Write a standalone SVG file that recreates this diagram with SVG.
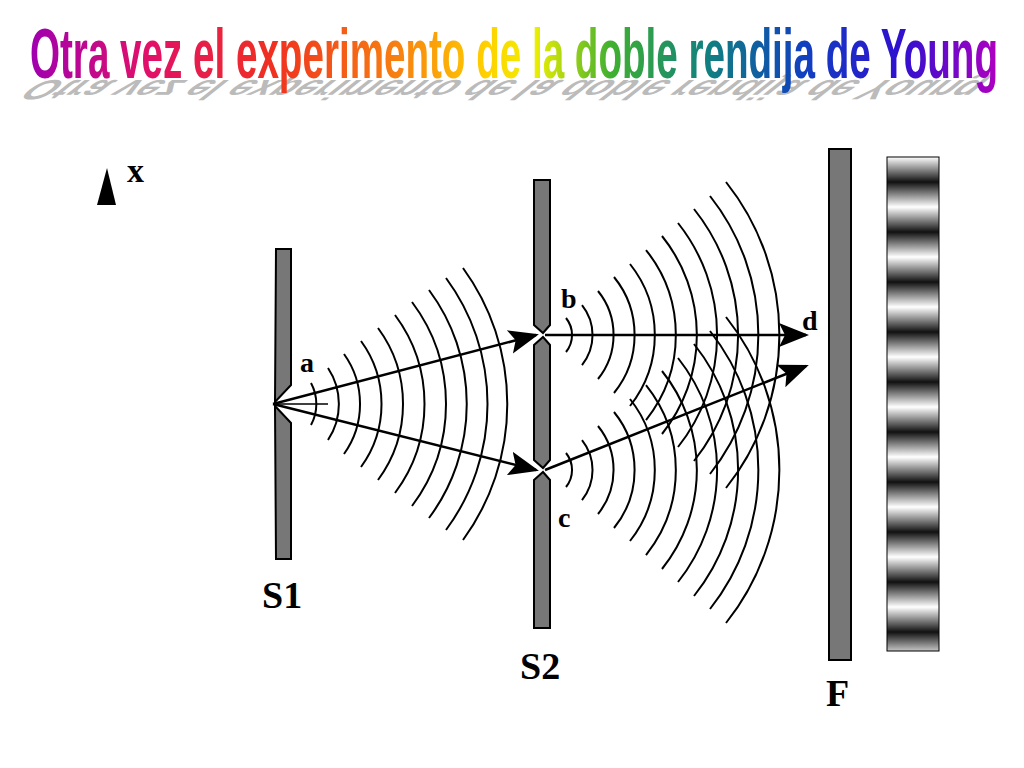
<svg xmlns="http://www.w3.org/2000/svg" width="1024" height="768" viewBox="0 0 1024 768">
<defs>
<linearGradient id="rb" x1="30" y1="0" x2="998" y2="0" gradientUnits="userSpaceOnUse">
<stop offset="0" stop-color="#a000b0"/><stop offset="0.12" stop-color="#e0106a"/><stop offset="0.25" stop-color="#f03020"/><stop offset="0.38" stop-color="#f78010"/><stop offset="0.47" stop-color="#ffd000"/><stop offset="0.52" stop-color="#f0f000"/><stop offset="0.6" stop-color="#40b030"/><stop offset="0.7" stop-color="#108080"/><stop offset="0.8" stop-color="#1040c0"/><stop offset="0.9" stop-color="#3010d0"/><stop offset="1" stop-color="#b000c0"/>
</linearGradient>
<linearGradient id="fr" x1="0" y1="157" x2="0" y2="207" gradientUnits="userSpaceOnUse" spreadMethod="repeat">
<stop offset="0" stop-color="#fff"/><stop offset="0.5" stop-color="#111"/><stop offset="1" stop-color="#fff"/>
</linearGradient>
<marker id="ah" viewBox="0 0 10 10" refX="9" refY="5" markerWidth="30" markerHeight="30" markerUnits="userSpaceOnUse" orient="auto"><path d="M0,1 L10,5 L0,9 L2,5 Z" fill="#000"/></marker>
<style>
.bar{fill:#777;stroke:#000;stroke-width:2}
.w{fill:none;stroke:#000;stroke-width:2}
.ar{stroke:#000;stroke-width:2.5;fill:none;marker-end:url(#ah)}
.lb{font-family:"Liberation Serif",serif;font-weight:bold;fill:#000}
.tt{font-family:"Liberation Sans Narrow","Liberation Sans",sans-serif;font-weight:bold;font-size:70px}
</style>
</defs>
<g id="title">
<text class="tt" x="40" y="0" fill="#bbb" textLength="950" lengthAdjust="spacingAndGlyphs" transform="translate(0,80) matrix(1,0,0.5,-0.4,0,0)">Otra vez el experimento de la doble rendija de Young</text>
<text class="tt" x="30" y="78" fill="url(#rb)" textLength="968" lengthAdjust="spacingAndGlyphs">Otra vez el experimento de la doble rendija de Young</text>
</g>
<g id="S1"><polygon class="bar" points="276,249 291,249 291,385 275,402 276,249"/><polygon class="bar" points="275,406 291,423 291,559 276,559"/></g>
<g id="S2"><polygon class="bar" points="534,180 550,180 550,325 543,333 534,325"/><polygon class="bar" points="534,345 543,337 550,345 550,460 543,468 534,460"/><polygon class="bar" points="534,480 543,472 550,480 550,628 534,628"/></g>
<g id="F"><rect class="bar" x="829" y="149" width="22" height="511"/></g>
<g id="screen"><rect x="887" y="157" width="52" height="494" fill="url(#fr)" stroke="#000" stroke-width="1"/></g>
<g id="connectors">
<line x1="273" y1="404" x2="328" y2="404" stroke="#000" stroke-width="1.5"/>
<line class="ar" x1="273" y1="404" x2="536" y2="335"/>
<line class="ar" x1="273" y1="404" x2="536" y2="470"/>
<line class="ar" x1="545" y1="335" x2="806" y2="335"/>
<line class="ar" x1="545" y1="470" x2="806" y2="366"/>
</g>
<g id="labels">
<polygon points="107,168 97,205 116,205"/>
<text class="lb" x="127" y="182" font-size="34">x</text>
<text class="lb" x="300" y="372" font-size="28">a</text>
<text class="lb" x="561" y="308" font-size="28">b</text>
<text class="lb" x="558" y="527" font-size="28">c</text>
<text class="lb" x="802" y="330" font-size="28">d</text>
<text class="lb" x="262" y="608" font-size="38">S1</text>
<text class="lb" x="520" y="679" font-size="38">S2</text>
<text class="lb" x="826" y="706" font-size="38">F</text>
</g>
<g id="arcs" class="w">
<path d="M311,383 A44,44 0 0 1 311,425"/>
<path d="M328,368 A65,65 0 0 1 328,440"/>
<path d="M344,354 A86,86 0 0 1 344,454"/>
<path d="M361,341 A107,107 0 0 1 361,467"/>
<path d="M378,328 A128,128 0 0 1 378,480"/>
<path d="M395,315 A149,149 0 0 1 395,493"/>
<path d="M412,302 A170,170 0 0 1 412,506"/>
<path d="M429,290 A191,191 0 0 1 429,518"/>
<path d="M446,278 A212,212 0 0 1 446,530"/>
<path d="M463,268 A231,231 0 0 1 463,540"/>
<path d="M566,318 A27,27 0 0 1 566,352"/>
<path d="M582,305 A48,48 0 0 1 582,365"/>
<path d="M598,291 A70,70 0 0 1 598,379"/>
<path d="M614,277 A92,92 0 0 1 614,393"/>
<path d="M630,264 A114,114 0 0 1 630,406"/>
<path d="M646,250 A136,136 0 0 1 646,420"/>
<path d="M662,236 A158,158 0 0 1 662,434"/>
<path d="M678,223 A180,180 0 0 1 678,447"/>
<path d="M694,209 A202,202 0 0 1 694,461"/>
<path d="M710,196 A224,224 0 0 1 710,474"/>
<path d="M726,182 A246,246 0 0 1 726,488"/>
<path d="M566,453 A27,27 0 0 1 566,487"/>
<path d="M582,440 A48,48 0 0 1 582,500"/>
<path d="M598,426 A70,70 0 0 1 598,514"/>
<path d="M614,412 A92,92 0 0 1 614,528"/>
<path d="M630,399 A114,114 0 0 1 630,541"/>
<path d="M646,385 A136,136 0 0 1 646,555"/>
<path d="M662,371 A158,158 0 0 1 662,569"/>
<path d="M678,358 A180,180 0 0 1 678,582"/>
<path d="M694,344 A202,202 0 0 1 694,596"/>
<path d="M710,331 A224,224 0 0 1 710,609"/>
<path d="M726,317 A246,246 0 0 1 726,623"/>
</g>
</svg>
